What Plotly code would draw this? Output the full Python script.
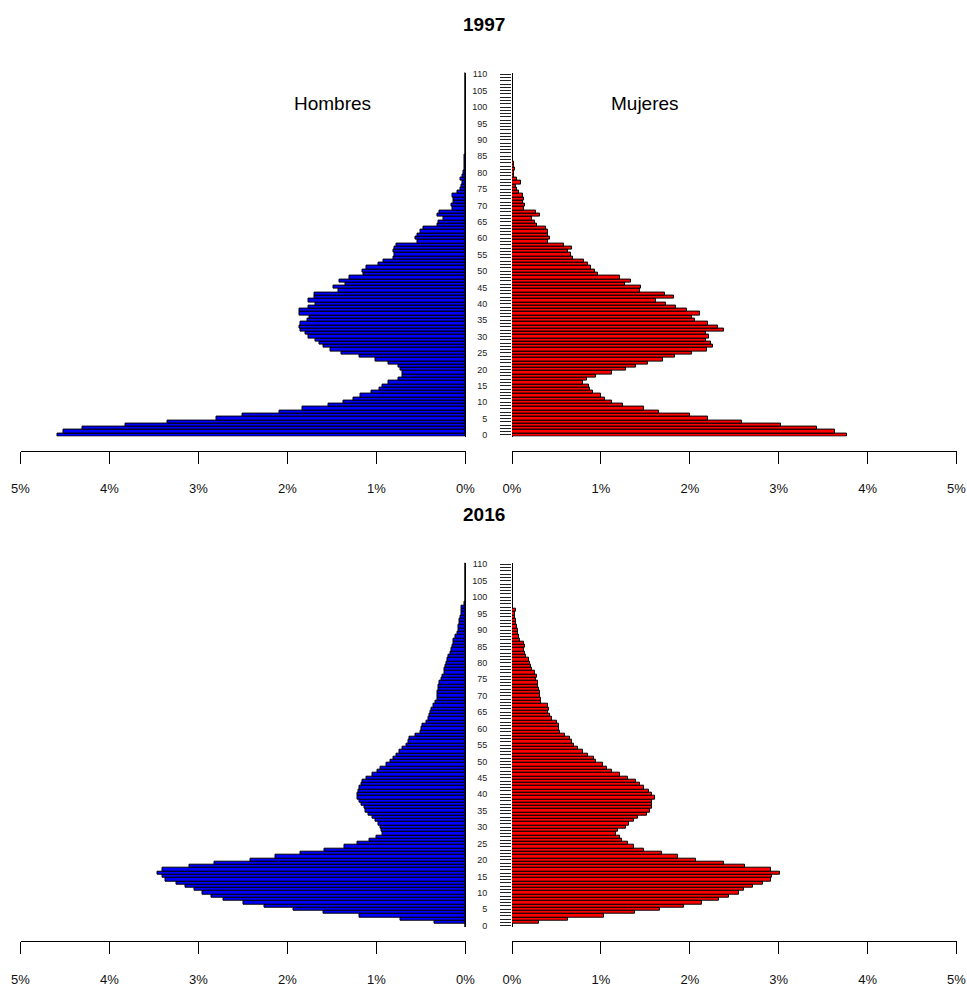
import plotly.graph_objects as go

# ---------------- data ----------------
ages = list(range(111))
age_labels = [str(a) if a % 5 == 0 else "" for a in ages]
pct_ticks = [0, 1, 2, 3, 4, 5]
pct_labels = ["0%", "1%", "2%", "3%", "4%", "5%"]
years = ["1997", "2016"]
sex_labels = ["Hombres", "Mujeres"]

hombres_1997 = [
    4.58, 4.52, 4.30, 3.82, 3.35, 2.80, 2.51, 2.09, 1.83, 1.54,
    1.37, 1.26, 1.18, 1.06, 0.97, 0.93, 0.86, 0.75, 0.71, 0.71,
    0.73, 0.75, 0.87, 1.01, 1.19, 1.39, 1.52, 1.60, 1.64, 1.69,
    1.76, 1.80, 1.85, 1.87, 1.85, 1.78, 1.75, 1.87, 1.87, 1.76,
    1.68, 1.76, 1.70, 1.70, 1.43, 1.48, 1.35, 1.42, 1.30, 1.15,
    1.16, 1.11, 0.98, 0.92, 0.81, 0.80, 0.81, 0.80, 0.78, 0.54,
    0.56, 0.54, 0.51, 0.47, 0.32, 0.30, 0.25, 0.32, 0.29, 0.15,
    0.16, 0.13, 0.14, 0.15, 0.09, 0.06, 0.05, 0.03, 0.06, 0.03,
    0.02, 0.015, 0.012, 0.01, 0.008, 0.006, 0.005, 0.004, 0.003, 0.002,
    0.002, 0.001, 0.001, 0.0, 0.0, 0.0, 0.0, 0.0, 0.0, 0.0,
    0.0, 0.0, 0.0, 0.0, 0.0, 0.0, 0.0, 0.0, 0.0, 0.0, 0.0,
]
mujeres_1997 = [
    3.77, 3.63, 3.43, 3.03, 2.59, 2.21, 2.00, 1.65, 1.48, 1.25,
    1.13, 1.05, 1.00, 0.91, 0.88, 0.87, 0.80, 0.84, 0.94, 1.13,
    1.28, 1.39, 1.53, 1.70, 1.83, 2.03, 2.19, 2.26, 2.24, 2.18,
    2.22, 2.18, 2.39, 2.32, 2.20, 2.06, 2.03, 2.12, 1.97, 1.85,
    1.73, 1.62, 1.82, 1.72, 1.44, 1.45, 1.27, 1.34, 1.22, 0.97,
    0.93, 0.89, 0.86, 0.81, 0.69, 0.66, 0.63, 0.68, 0.59, 0.41,
    0.43, 0.41, 0.41, 0.38, 0.28, 0.26, 0.22, 0.31, 0.27, 0.13,
    0.15, 0.12, 0.14, 0.12, 0.08, 0.06, 0.05, 0.10, 0.06, 0.02,
    0.02, 0.03, 0.02, 0.02, 0.01, 0.01, 0.005, 0.005, 0.004, 0.003,
    0.002, 0.001, 0.001, 0.0, 0.0, 0.0, 0.0, 0.0, 0.0, 0.0,
    0.0, 0.0, 0.0, 0.0, 0.0, 0.0, 0.0, 0.0, 0.0, 0.0, 0.0,
]
hombres_2016 = [
    0.0, 0.35, 0.73, 1.19, 1.60, 1.93, 2.26, 2.50, 2.72, 2.85,
    2.96, 3.04, 3.15, 3.25, 3.37, 3.40, 3.46, 3.41, 3.10, 2.82,
    2.42, 2.13, 1.85, 1.58, 1.36, 1.21, 1.08, 1.00, 0.93, 0.94,
    0.96, 0.98, 1.01, 1.05, 1.09, 1.12, 1.14, 1.17, 1.19, 1.21,
    1.21, 1.20, 1.19, 1.17, 1.16, 1.11, 1.05, 0.99, 0.95, 0.89,
    0.84, 0.81, 0.77, 0.74, 0.71, 0.66, 0.64, 0.63, 0.56, 0.51,
    0.49, 0.48, 0.44, 0.42, 0.40, 0.39, 0.38, 0.36, 0.34, 0.32,
    0.32, 0.31, 0.30, 0.30, 0.29, 0.27, 0.26, 0.24, 0.24, 0.23,
    0.21, 0.20, 0.19, 0.17, 0.16, 0.15, 0.14, 0.14, 0.11, 0.09,
    0.08, 0.075, 0.065, 0.065, 0.056, 0.05, 0.04, 0.04, 0.01, 0.005,
    0.003, 0.002, 0.001, 0.0, 0.0, 0.0, 0.0, 0.0, 0.0, 0.0, 0.0,
]
mujeres_2016 = [
    0.0, 0.30, 0.63, 1.03, 1.38, 1.67, 1.94, 2.14, 2.33, 2.44,
    2.55, 2.61, 2.71, 2.82, 2.91, 2.93, 3.01, 2.91, 2.62, 2.38,
    2.07, 1.87, 1.69, 1.49, 1.37, 1.30, 1.24, 1.21, 1.17, 1.19,
    1.28, 1.32, 1.37, 1.42, 1.52, 1.55, 1.57, 1.58, 1.58, 1.61,
    1.58, 1.54, 1.49, 1.44, 1.40, 1.31, 1.22, 1.13, 1.07, 1.02,
    0.95, 0.92, 0.85, 0.80, 0.74, 0.70, 0.68, 0.65, 0.60, 0.54,
    0.53, 0.53, 0.51, 0.45, 0.43, 0.41, 0.42, 0.40, 0.33, 0.33,
    0.32, 0.32, 0.30, 0.29, 0.29, 0.27, 0.28, 0.26, 0.22, 0.21,
    0.20, 0.19, 0.16, 0.15, 0.14, 0.15, 0.14, 0.09, 0.08, 0.07,
    0.07, 0.06, 0.05, 0.04, 0.035, 0.03, 0.045, 0.015, 0.01, 0.005,
    0.003, 0.002, 0.001, 0.0, 0.0, 0.0, 0.0, 0.0, 0.0, 0.0, 0.0,
]

# ---------------- layout helpers ----------------
W, H = 967, 988
FONT = "Liberation Sans, Arial, Helvetica, sans-serif"


def py(px):
    return 1 - px / H


panels = [
    # (year, male, female, top px, bottom px, x-axis px, title px)
    (years[0], hombres_1997, mujeres_1997, 72.6, 436.6, 450.5, 24.0),
    (years[1], hombres_2016, mujeres_2016, 562.7, 927.3, 941.0, 514.7),
]
left_dom = [20.5 / W, 465.5 / W]
right_dom = [512.0 / W, 956.5 / W]

fig = go.Figure()
layout = dict(
    width=W, height=H,
    margin=dict(l=0, r=0, t=0, b=0, pad=0, autoexpand=False),
    plot_bgcolor="white", paper_bgcolor="white", showlegend=False,
    bargap=0, font=dict(family=FONT, color="black"),
)
annotations = []

for i, (yr, male, female, top, bot, axpx, titlepx) in enumerate(panels):
    nL = 2 * i + 1
    nR = 2 * i + 2
    sfx = lambda n: "" if n == 1 else str(n)
    xL, yL, xR, yR = "x" + sfx(nL), "y" + sfx(nL), "x" + sfx(nR), "y" + sfx(nR)
    ydom = [py(bot), py(top)]

    fig.add_trace(go.Bar(
        x=male, y=ages, orientation="h", xaxis=xL, yaxis=yL,
        marker=dict(color="#0000FF", line=dict(color="black", width=1)),
        hoverinfo="skip",
    ))
    fig.add_trace(go.Bar(
        x=female, y=ages, orientation="h", xaxis=xR, yaxis=yR,
        marker=dict(color="#FF0000", line=dict(color="black", width=1)),
        hoverinfo="skip",
    ))

    xcommon = dict(
        anchor="free", position=py(axpx), showline=True, linecolor="black",
        linewidth=1, ticks="outside", ticklen=12, tickcolor="black",
        tickwidth=1, tickvals=pct_ticks, ticktext=pct_labels,
        tickfont=dict(size=13, family=FONT, color="#111"),
        ticklabelstandoff=14, showgrid=False, zeroline=True,
        zerolinecolor="black", zerolinewidth=1, fixedrange=True,
        automargin=False,
    )
    layout["xaxis" + sfx(nL)] = dict(xcommon, domain=left_dom, range=[5, 0])
    layout["xaxis" + sfx(nR)] = dict(xcommon, domain=right_dom, range=[0, 5])

    layout["yaxis" + sfx(nL)] = dict(
        domain=ydom, range=[-0.5, 110.5], anchor=xL, side="right",
        showline=False, ticks="",
        showticklabels=False, showgrid=False, zeroline=False, fixedrange=True,
        automargin=False,
    )
    layout["yaxis" + sfx(nR)] = dict(
        domain=ydom, range=[-0.5, 110.5], anchor=xR, side="left",
        showline=False,
        ticks="outside", ticklen=11, tickwidth=1, tickcolor="#222",
        tickvals=ages, ticktext=age_labels,
        tickfont=dict(size=9, family=FONT, color="#222"),
        ticklabelstandoff=11, showgrid=False, zeroline=False, fixedrange=True,
        automargin=False,
    )

    annotations.append(dict(
        text="<b>" + yr + "</b>", x=0.5, y=py(titlepx), xref="paper",
        yref="paper", xanchor="center", yanchor="middle", showarrow=False,
        font=dict(size=19, family=FONT, color="black"),
    ))
    if i == 0:
        annotations.append(dict(
            text=sex_labels[0], x=1.5, y=101.2, xref=xL, yref=yL,
            xanchor="center", yanchor="middle", showarrow=False,
            font=dict(size=19, family=FONT, color="black"),
        ))
        annotations.append(dict(
            text=sex_labels[1], x=1.5, y=101.2, xref=xR, yref=yR,
            xanchor="center", yanchor="middle", showarrow=False,
            font=dict(size=19, family=FONT, color="black"),
        ))

layout["annotations"] = annotations
fig.update_layout(**layout)
fig.write_html("out.html")
